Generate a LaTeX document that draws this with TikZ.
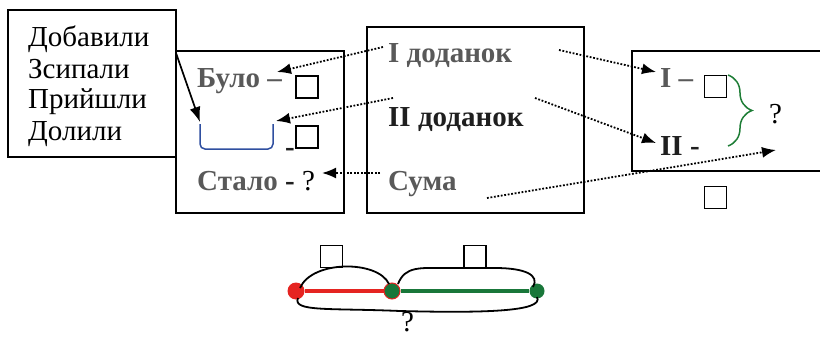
\documentclass[tikz,border=0pt]{standalone}
\usepackage{fontspec}
\setmainfont{Liberation Serif}
\usetikzlibrary{arrows.meta,decorations.pathreplacing}

\definecolor{labelgray}{HTML}{595959}
\definecolor{labeldark}{HTML}{1F1F1F}
\definecolor{bracketblue}{HTML}{2F4FA0}
\definecolor{bracegreen}{HTML}{1E7D36}
\definecolor{segred}{HTML}{E52421}
\definecolor{seggreen}{HTML}{19773A}

\newcommand\labelsize{\fontsize{29}{31}\selectfont}

\tikzset{
  frame/.style={line width=1.9pt},
  sq/.style={draw, line width=1.6pt, minimum size=22pt, inner sep=0pt},
  word/.style={anchor=base west, inner sep=0pt},
  gb/.style={word, font={\labelsize\bfseries}, text=labelgray},
  db/.style={word, font={\labelsize\bfseries}, text=labeldark},
  dots/.style={line width=1.8pt, dash pattern=on 1.8pt off 1.7pt, -{Latex[length=14pt,width=11pt]}},
  dot/.style={circle, inner sep=0pt, minimum size=#1},
}

\begin{document}
\begin{tikzpicture}[x=1pt, y=-1pt, font=\labelsize]
\useasboundingbox (0,0) rectangle (820,337);

% frames
\draw[frame] (8,10) rectangle (176,157);
\draw[frame] (176,51) rectangle (344,213);
\draw[frame] (367,27) rectangle (584,213);
\draw[frame] (632,51) rectangle (826,171);

% verbs
\foreach \w [count=\i] in {Добавили,Зсипали,Прийшли,Долили}
  \node[word] (verb\i) at (28,{16+31*\i}) {\w};

% was / add / became
\node[gb] (was) at (197,88) {Було –};
\node[sq] (wasbox) at (307,87) {};
\draw[bracketblue, line width=1.5pt, rounded corners=5pt] (200,124) -- (200,149) -- (273,149) -- (273,124);
\node[sq] (addbox) at (307,137) {};
\node[db] (addminus) at (285,157) {-};
\node[gb] (became) at (197,190) {Стало~\textcolor{labeldark}{-}~\textcolor{black}{\mdseries ?}};

% addends
\node[gb] (first) at (388,63) {I доданок};
\node[db] (second) at (388,127) {II доданок};
\node[gb] (total) at (388,190) {Сума};

% right frame
\node[gb] (firstR) at (660,88) {I –};
\node[sq] (firstbox) at (715.5,86.5) {};
\node[db] (secondR) at (660,155) {II -};
\draw[bracegreen, line width=1.5pt, decorate, decoration={brace, amplitude=24pt, aspect=0.5}] (728,75) -- (728,146);
\node[word] (sumq) at (769,123) {?};
\node[sq] (sumbox) at (715.5,197.5) {};

% connectors
\coordinate (verbout) at (176,53);
\coordinate (bracketL) at (200,122);
\coordinate (bracketR) at (276,121);
\coordinate (wasin) at (277,72);
\coordinate (becamein) at (322,173);
\coordinate (firstout) at (383,47);
\coordinate (secondout) at (393,98);
\coordinate (totalout) at (380,173);
\coordinate (firstoutR) at (559,50);
\coordinate (secondoutR) at (535,98);
\coordinate (totaloutR) at (487,198);
\coordinate (firstin) at (656,72);
\coordinate (secondin) at (656,143);
\coordinate (sumin) at (776,150);

\draw[line width=1.7pt, -{Latex[length=15pt,width=11pt]}] (verbout) -- (bracketL);
\draw[dots] (firstout) -- (wasin);
\draw[dots] (secondout) -- (bracketR);
\draw[dots] (totalout) -- (becamein);
\draw[dots] (firstoutR) -- (firstin);
\draw[dots] (secondoutR) -- (secondin);
\draw[dots] (totaloutR) -- (sumin);

% segment model
\node[dot=17pt, fill=segred] (pa) at (296,291) {};
\node[dot=16pt, fill=seggreen, draw=segred, line width=1pt] (pb) at (392,291) {};
\node[dot=15pt, fill=seggreen] (pc) at (537,291) {};
\draw[segred, line width=4.5pt] (pa) -- (pb);
\draw[seggreen, line width=4.5pt] (pb) -- (pc);
\node[sq] (partA) at (331.5,256.5) {};
\node[sq] (partB) at (475,256.5) {};
\draw[line width=1.8pt] (300,288) .. controls (312,260) and (378,260) .. (389,284);
\draw[line width=1.8pt] (398,284) .. controls (405,266) and (420,268) .. (445,268) -- (495,268) .. controls (525,268) and (540,275) .. (533,287);
\draw[line width=1.8pt] (298,298) .. controls (292,312) and (330,308) .. (400,311) .. controls (480,313) and (545,312) .. (537,297);
\node[word] (wholeq) at (401,331) {?};
\end{tikzpicture}
\end{document}
